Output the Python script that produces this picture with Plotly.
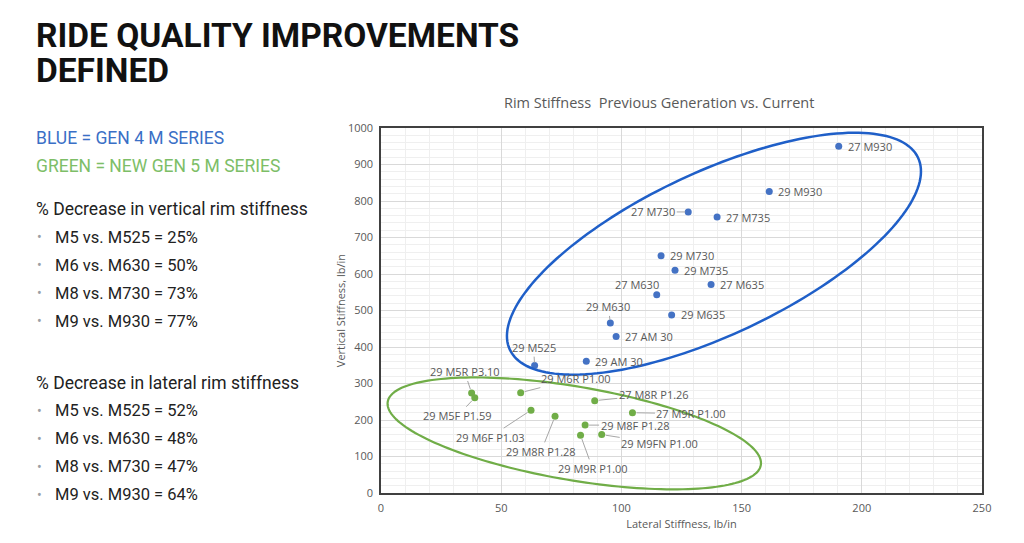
import numpy as np
import plotly.graph_objects as go

# ---------------- data ----------------
gen4_names = ["27 M930", "29 M930", "27 M730", "27 M735", "29 M730", "29 M735",
              "27 M635", "27 M630", "29 M635", "29 M630", "27 AM 30", "29 AM 30", "29 M525"]
gen4_lateral = [190.4, 161.5, 127.8, 139.8, 116.5, 122.3, 137.3, 114.7, 120.9, 95.4, 97.8, 85.4, 63.9]
gen4_vertical = [950, 826, 770, 756, 650, 610, 571, 543, 488, 466, 429, 361, 349]

gen5_names = ["29 M5R P3.10", "29 M5F P1.59", "29 M6R P1.00", "29 M6F P1.03", "29 M8R P1.28",
              "27 M8R P1.26", "27 M9R P1.00", "29 M8F P1.28", "29 M9R P1.00", "29 M9FN P1.00"]
gen5_lateral = [37.7, 39.0, 58.1, 62.4, 72.4, 88.9, 104.6, 84.9, 83.0, 91.8]
gen5_vertical = [274, 261, 275, 227, 210, 253, 220, 186, 158, 160]

x_ticks = [0, 50, 100, 150, 200, 250]
y_ticks = [0, 100, 200, 300, 400, 500, 600, 700, 800, 900, 1000]

vertical_block = ["M5 vs. M525 = 25%", "M6 vs. M630 = 50%", "M8 vs. M730 = 73%", "M9 vs. M930 = 77%"]
lateral_block = ["M5 vs. M525 = 52%", "M6 vs. M630 = 48%", "M8 vs. M730 = 47%", "M9 vs. M930 = 64%"]

# label placement (pixel offsets of text centre from the point)
gen4_label_style = {"27 M730": (-35, 0, True), "27 M630": (-20, -10, False),
                    "29 M630": (-2, -16, True), "29 M525": (-1, -18, True)}
gen5_label_style = {"29 M5R P3.10": (-7, -21), "29 M5F P1.59": (-17, 18), "29 M6R P1.00": (55, -14),
                    "29 M6F P1.03": (-41, 27), "29 M8R P1.28": (-14, 35), "27 M8R P1.26": (59, -6),
                    "27 M9R P1.00": (59, 1), "29 M8F P1.28": (50, 0), "29 M9R P1.00": (12, 33),
                    "29 M9FN P1.00": (58, 9)}

# ellipse outlines: centre, semi-axis vectors (data units)
blue_ellipse = dict(c=(138.5, 655.6), u=(84.9, 263.0), v=(14.4, -201.6))
green_ellipse = dict(c=(80.4, 163.3), u=(77.6, -86.8), v=(-3.26, -126.4))

BLUE = "#4472C4"
GREEN = "#70AD47"
LABEL = "#595959"

# ---------------- layout geometry ----------------
W, H = 1024, 543
OFF = 8  # page body margin
ML, MR, MT, MB = 373, 50, 120, 58
PW, PH = W - ML - MR, H - MT - MB


def px(xp):
    return (xp - OFF - ML) / PW


def py(yp):
    return (OFF + H - MB - yp) / PH


fig = go.Figure()

fig.add_trace(go.Scatter(x=gen4_lateral, y=gen4_vertical, mode="markers",
                         marker=dict(color=BLUE, size=7), name="Gen 4", hoverinfo="text",
                         text=gen4_names))
fig.add_trace(go.Scatter(x=gen5_lateral, y=gen5_vertical, mode="markers",
                         marker=dict(color=GREEN, size=7), name="Gen 5", hoverinfo="text",
                         text=gen5_names))


def ellipse_path(e):
    t = np.linspace(0, 2 * np.pi, 181)
    xs = e["c"][0] + e["u"][0] * np.cos(t) + e["v"][0] * np.sin(t)
    ys = e["c"][1] + e["u"][1] * np.cos(t) + e["v"][1] * np.sin(t)
    return "M " + " L ".join(f"{a:.3f},{b:.3f}" for a, b in zip(xs, ys)) + " Z"


fig.add_shape(type="path", path=ellipse_path(blue_ellipse), xref="x", yref="y",
              line=dict(color="#1F5FC8", width=2.5))
fig.add_shape(type="path", path=ellipse_path(green_ellipse), xref="x", yref="y",
              line=dict(color=GREEN, width=2.2))

lab_font = dict(family="Open Sans", size=11, color=LABEL)

for n, x, y in zip(gen4_names, gen4_lateral, gen4_vertical):
    if n in gen4_label_style:
        ax, ay, arrow = gen4_label_style[n]
        if arrow:
            fig.add_annotation(x=x, y=y, text=n, showarrow=True, ax=ax, ay=ay, arrowhead=0,
                               arrowwidth=1, arrowcolor="#A6A6A6", standoff=3, font=lab_font,
                               xanchor="center", yanchor="middle")
        else:
            fig.add_annotation(x=x, y=y, text=n, showarrow=False, xshift=ax, yshift=-ay,
                               font=lab_font, xanchor="center", yanchor="middle")
    else:
        fig.add_annotation(x=x, y=y, text=n, showarrow=False, xanchor="left", yanchor="middle",
                           xshift=7, font=lab_font)

for n, x, y in zip(gen5_names, gen5_lateral, gen5_vertical):
    ax, ay = gen5_label_style[n]
    fig.add_annotation(x=x, y=y, text=n, showarrow=True, ax=ax, ay=ay, arrowhead=0,
                       arrowwidth=1, arrowcolor="#A6A6A6", standoff=4, font=lab_font,
                       xanchor="center", yanchor="middle")


def txt(x, y, s, font, xanchor="left", height=None):
    fig.add_annotation(xref="paper", yref="paper", x=px(x), y=py(y), text=s, showarrow=False,
                       xanchor=xanchor, yanchor="middle", font=font, height=height)


# chart title
txt(659, 103, "Rim Stiffness  Previous Generation vs. Current",
    dict(family="Open Sans", size=14.5, color=LABEL), xanchor="center")

# slide text
title_font = dict(family="Roboto", size=33.5, color="#111111")
txt(34, 35, "<b>RIDE QUALITY IMPROVEMENTS</b>", title_font, height=33)
txt(34, 70.5, "<b>DEFINED</b>", title_font, height=33)

side_font = "Roboto"
txt(34, 138, "BLUE = GEN 4 M SERIES", dict(family=side_font, size=17.5, color="#3A6FC6"))
txt(34, 165.5, "GREEN = NEW GEN 5 M SERIES", dict(family=side_font, size=17.5, color="#7DBE67"))


def block(head, items, y0):
    txt(34, y0, head, dict(family=side_font, size=17.5, color="#222222"))
    for i, s in enumerate(items):
        yy = y0 + 28 * (i + 1)
        txt(35, yy, "•", dict(family=side_font, size=14, color="#9AA0A6"))
        txt(53, yy, s, dict(family=side_font, size=16.5, color="#222222"))


block("% Decrease in vertical rim stiffness", vertical_block, 209)
block("% Decrease in lateral rim stiffness", lateral_block, 382.5)

axis_common = dict(showgrid=True, gridcolor="#D9D9D9", gridwidth=1, zeroline=False,
                   showline=True, linecolor="#404040", linewidth=1.5, mirror=True,
                   ticks="", ticklabelstandoff=4,
                   tickfont=dict(family="Open Sans", size=11, color=LABEL))
fig.update_xaxes(range=[0, 250], tickvals=x_ticks, ticktext=[str(v) for v in x_ticks],
                 minor=dict(dtick=10, showgrid=True, gridcolor="#EFEFEF"),
                 title=dict(text="Lateral Stiffness, lb/in", standoff=6,
                            font=dict(family="Open Sans", size=11, color=LABEL)), **axis_common)
fig.update_yaxes(range=[0, 1000], tickvals=y_ticks, ticktext=[str(v) for v in y_ticks],
                 minor=dict(dtick=20, showgrid=True, gridcolor="#EFEFEF"),
                 title=dict(text="Vertical Stiffness, lb/in", standoff=0,
                            font=dict(family="Open Sans", size=11, color=LABEL)), **axis_common)

fig.update_layout(width=W, height=H, margin=dict(l=ML, r=MR, t=MT, b=MB, autoexpand=False),
                  paper_bgcolor="white", plot_bgcolor="white", showlegend=False)

fig.write_html("out.html")
